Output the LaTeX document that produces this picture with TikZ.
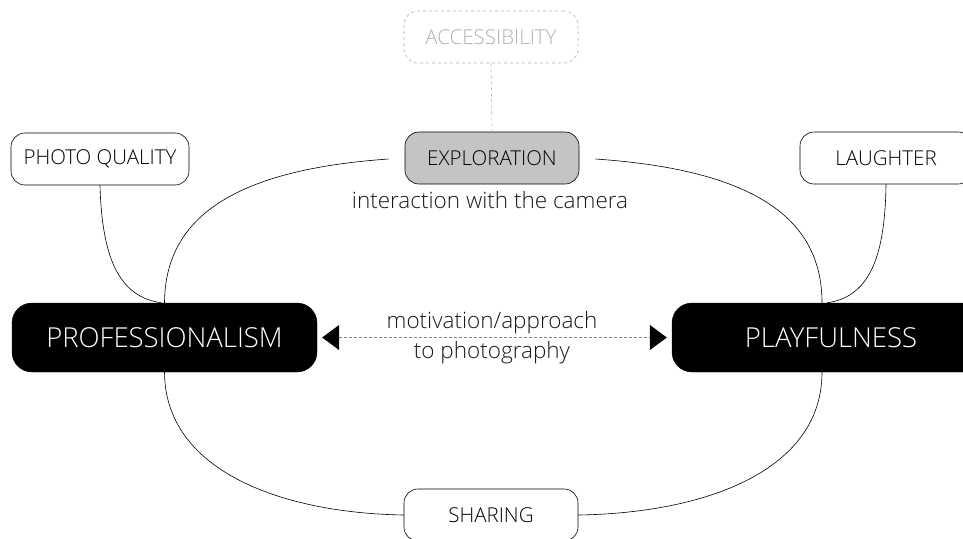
\documentclass[tikz,border=0pt]{standalone}
\usepackage{fontspec}
\setmainfont{Open Sans}[UprightFont={* Light}]
\usetikzlibrary{arrows.meta}
\definecolor{boxgray}{HTML}{C4C4C4}
\definecolor{ghost}{HTML}{B0B0B0}
\tikzset{
  smallbox/.style={draw=black, line width=0.6pt, rounded corners=14pt, minimum width=174pt, minimum height=52pt, inner sep=0pt, font=\fontsize{20.5}{24}\selectfont},
  bigbox/.style={fill=black, draw=black, rounded corners=20pt, minimum width=305pt, minimum height=69pt, inner sep=0pt, text=white, font=\fontsize{27.5}{31}\selectfont},
  link/.style={line width=0.6pt},
  lbl/.style={font=\fontsize{22.5}{30}\selectfont, text=black!90, align=center, inner sep=0pt},
  mytri/.tip={Triangle[length=17pt,width=25pt,fill=black,color=black]},
}
\begin{document}
\begin{tikzpicture}[x=1pt,y=-1pt]
\useasboundingbox (0,0) rectangle (963,538);
\node[smallbox, draw=ghost, dashed, text=ghost] (acc) at (491,37) {ACCESSIBILITY};
\node[smallbox, fill=boxgray] (exp) at (492,158) {EXPLORATION};
\node[lbl] (inter) at (490,200) {interaction with the camera};
\node[smallbox, minimum width=178pt] (pq) at (100,159) {PHOTO QUALITY};
\node[smallbox, minimum width=172pt] (lau) at (886,158) {LAUGHTER};
\node[bigbox] (prof) at (164.5,337.5) {PROFESSIONALISM};
\node[bigbox, minimum width=318pt] (play) at (831,337.5) {PLAYFULNESS};
\node[smallbox] (sha) at (491,515) {SHARING};
\node[lbl] (mot) at (492,338) {motivation/approach\\to photography};

\draw[ghost, dashed, line width=0.6pt] (acc.south) -- (exp.north);
\draw[gray, dash pattern=on 3pt off 2pt, line width=0.8pt, {mytri}-{mytri}, shorten <=5pt, shorten >=5pt] (prof.east) -- (play.west);

\draw[link] ([xshift=-16pt,yshift=-1pt]exp.west) .. controls (230,170) and (165,220) .. (prof.north);
\draw[link] ([xshift=16pt,yshift=-1pt]exp.east) .. controls (757,170) and (822,220) .. ([xshift=-9pt]play.north);
\draw[link] (prof.south) .. controls (165,470) and (280,513) .. (sha.west);
\draw[link] ([xshift=-9pt]play.south) .. controls (822,470) and (707,513) .. (sha.east);
\draw[link] (pq.south) .. controls (102,260) and (120,297) .. ([xshift=-3pt]prof.north);
\draw[link] (lau.south) .. controls (885,260) and (868,297) .. ([xshift=-4pt]play.north);
\end{tikzpicture}
\end{document}
